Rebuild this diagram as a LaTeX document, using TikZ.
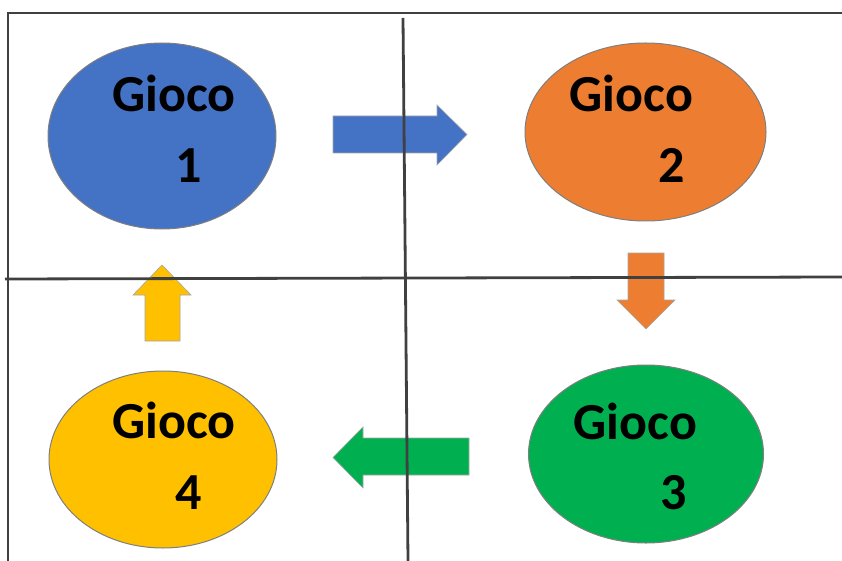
\documentclass[tikz,border=0pt]{standalone}
\usepackage{fontspec}
\setmainfont{Carlito}
\usetikzlibrary{shapes.geometric}
\definecolor{cblue}{HTML}{4472C4}
\definecolor{corange}{HTML}{ED7D31}
\definecolor{cgreen}{HTML}{00B050}
\definecolor{cyellow}{HTML}{FFC000}
\definecolor{cline}{HTML}{404040}
\definecolor{cedge}{HTML}{7F7F7F}
\begin{document}
\begin{tikzpicture}[x=1pt,y=-1pt,
  game/.style={ellipse, draw=cedge, line width=1pt, inner sep=0pt},
  lbl/.style={anchor=base, inner sep=0pt, font=\fontsize{52}{52}\selectfont\bfseries},
  blockarrow/.style={draw=cedge!70, line width=0.6pt},
  gridline/.style={draw=cline, line width=2.8pt},
]
\useasboundingbox (0,0) rectangle (842,561);
% ellipses
\node[game, fill=cblue, minimum width=228pt, minimum height=186pt] (e1) at (162,136) {};
\node[game, fill=corange, minimum width=241pt, minimum height=178pt] (e2) at (645.5,132) {};
\node[game, fill=cgreen, minimum width=235pt, minimum height=178pt] (e3) at (646,454) {};
\node[game, fill=cyellow, minimum width=228pt, minimum height=177pt] (e4) at (163,459.5) {};
% labels
\node[lbl] (t1a) at (174,112) {Gioco};
\node[lbl] (t1b) at (189,183) {1};
\node[lbl] (t2a) at (631.5,112) {Gioco};
\node[lbl] (t2b) at (672,183) {2};
\node[lbl] (t3a) at (635.5,439) {Gioco};
\node[lbl] (t3b) at (674,509) {3};
\node[lbl] (t4a) at (174,438) {Gioco};
\node[lbl] (t4b) at (189,509) {4};
% block arrows
\filldraw[blockarrow, fill=cblue] (333,116) -- (437,116) -- (437,105) -- (467,134.5) -- (437,165) -- (437,153) -- (333,153) -- cycle;
\filldraw[blockarrow, fill=corange] (628,253) -- (664,253) -- (664,300) -- (675,300) -- (646,329) -- (617,300) -- (628,300) -- cycle;
\filldraw[blockarrow, fill=cgreen] (469,438) -- (363,438) -- (363,427) -- (333,457.5) -- (363,488) -- (363,475) -- (469,475) -- cycle;
\filldraw[blockarrow, fill=cyellow] (145,341) -- (180,341) -- (180,295) -- (191,295) -- (162,265) -- (133,295) -- (145,295) -- cycle;
% grid lines
\coordinate (tl) at (7,13);
\coordinate (tr) at (842,13);
\coordinate (bl) at (8,561);
\coordinate (ml) at (5,279);
\coordinate (mr) at (842,277);
\coordinate (vt) at (403,18);
\coordinate (vb) at (408,561);
\draw[gridline, line width=2pt] (tl) -- (tr);
\draw[gridline] (8,12) -- (bl);
\draw[gridline] (ml) -- (mr);
\draw[gridline] (vt) -- (vb);
\end{tikzpicture}
\end{document}
